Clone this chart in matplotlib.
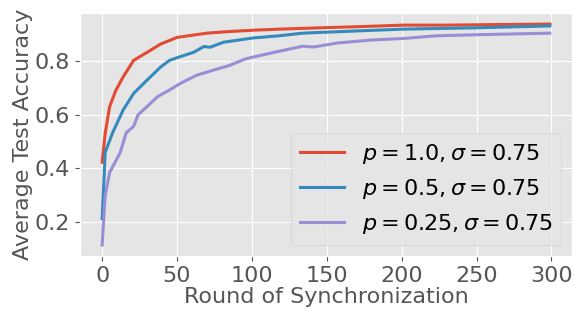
import matplotlib
matplotlib.use("Agg")
import matplotlib.pyplot as plt

plt.style.use('ggplot')

# values
rounds_red = [0, 2, 5, 9, 14, 21, 30, 39, 50, 60, 70, 85, 101, 118, 140, 170, 201, 230, 260, 299]
acc_red = [0.422, 0.53, 0.631, 0.69, 0.742, 0.804, 0.834, 0.865, 0.89, 0.898, 0.906, 0.912, 0.917, 0.921,
           0.925, 0.93, 0.936, 0.936, 0.938, 0.94]

rounds_blue = [0, 2, 7, 14, 21, 30, 39, 45, 50, 61, 68, 72, 81, 101, 118, 134, 160, 201, 250, 299]
acc_blue = [0.211, 0.459, 0.533, 0.618, 0.68, 0.73, 0.779, 0.804, 0.814, 0.834, 0.856, 0.853, 0.872,
            0.888, 0.896, 0.906, 0.912, 0.921, 0.926, 0.933]

rounds_purple = [0, 2, 5, 12, 16, 21, 24, 30, 37, 45, 52, 63, 74, 85, 96, 118, 134, 141, 157, 179,
                 201, 223, 250, 299]
acc_purple = [0.112, 0.297, 0.384, 0.458, 0.532, 0.557, 0.6, 0.631, 0.668, 0.693, 0.717, 0.748, 0.767,
              0.785, 0.81, 0.838, 0.857, 0.854, 0.869, 0.88, 0.886, 0.896, 0.9, 0.906]

labels = [r'$p=1.0, \sigma=0.75$', r'$p=0.5, \sigma=0.75$', r'$p=0.25, \sigma=0.75$']

fig, ax = plt.subplots(figsize=(5.74, 3.10), dpi=100)
fig.subplots_adjust(left=0.139, right=0.997, top=0.958, bottom=0.174)

ax.plot(rounds_red, acc_red, lw=2.2, label=labels[0])
ax.plot(rounds_blue, acc_blue, lw=2.2, label=labels[1])
ax.plot(rounds_purple, acc_purple, lw=2.2, label=labels[2])

ax.set_xticks([0, 50, 100, 150, 200, 250, 300])
ax.set_yticks([0.2, 0.4, 0.6, 0.8])
ax.tick_params(labelsize=16)
ax.set_xlabel('Round of Synchronization', fontsize=16, labelpad=1)
ax.set_ylabel('Average Test Accuracy', fontsize=16, labelpad=1)
ax.legend(loc='lower right', fontsize=16)

fig.savefig('out.png')
